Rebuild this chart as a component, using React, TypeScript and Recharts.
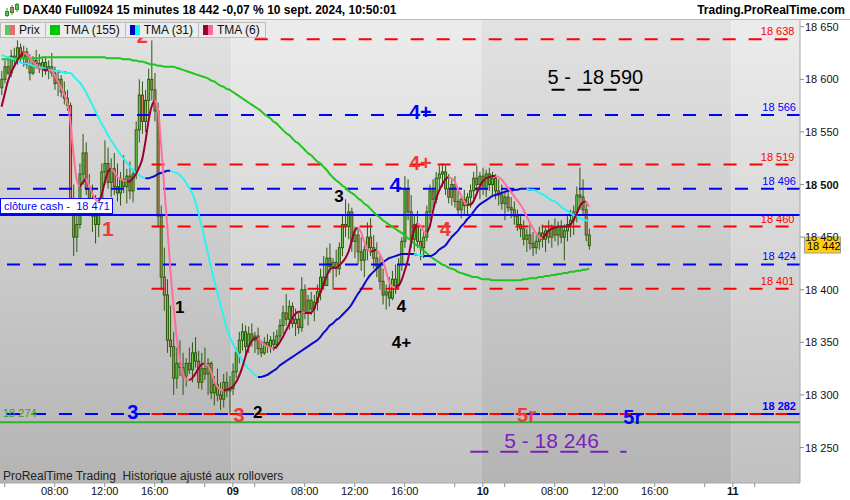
import React from "react";
import {
  ComposedChart,
  Bar,
  Line,
  XAxis,
  YAxis,
  ReferenceLine,
  ReferenceArea,
  ReferenceDot,
} from "recharts";

// DAX40 Full0924, 15 minute bars, 6 sept 03:30 -> 10 sept 10:45 (one slot per bar)
const firstOpen = 18592;

const highs = [
  18608, 18618, 18622, 18628, 18630, 18637, 18634, 18632, 18630, 18624,
  18622, 18628, 18624, 18620, 18622, 18618, 18625, 18612, 18608, 18604,
  18598, 18590, 18578, 18500, 18470, 18520, 18548, 18540, 18510, 18500,
  18490, 18485, 18520, 18542, 18535, 18525, 18530, 18520, 18512, 18528,
  18515, 18522, 18515, 18560, 18600, 18598, 18590, 18610, 18637, 18606,
  18578, 18480, 18440, 18410, 18385, 18360, 18345, 18352, 18340, 18335,
  18345, 18350, 18355, 18342, 18340, 18345, 18335, 18332, 18318, 18325,
  18312, 18320, 18322, 18318, 18330, 18345, 18360, 18368, 18366, 18365,
  18368, 18360, 18364, 18352, 18355, 18358, 18356, 18360, 18362, 18372,
  18385, 18396, 18390, 18388, 18382, 18378, 18412, 18405, 18395, 18398,
  18395, 18405, 18420, 18432, 18440, 18444, 18430, 18438, 18445, 18470,
  18486, 18482, 18478, 18460, 18458, 18450, 18442, 18464, 18468, 18452,
  18445, 18432, 18420, 18405, 18412, 18418, 18424, 18430, 18450, 18508,
  18505, 18490, 18470, 18475, 18458, 18455, 18480, 18500, 18505, 18512,
  18518, 18520, 18518, 18510, 18505, 18508, 18494, 18490, 18495, 18492,
  18500, 18512, 18518, 18512, 18516, 18514, 18516, 18512, 18510, 18505,
  18500, 18492, 18495, 18488, 18484, 18476, 18470, 18466, 18458, 18462,
  18455, 18452, 18460, 18462, 18460, 18466, 18462, 18468, 18465, 18466,
  18462, 18470, 18476, 18480, 18498, 18516, 18505, 18482, 18458,
];

const lows = [
  18585, 18596, 18604, 18602, 18612, 18614, 18616, 18612, 18610, 18599,
  18604, 18610, 18606, 18602, 18604, 18600, 18602, 18590, 18584, 18583,
  18576, 18570, 18470, 18432, 18436, 18458, 18500, 18490, 18470, 18455,
  18444, 18450, 18476, 18500, 18496, 18488, 18490, 18484, 18480, 18492,
  18482, 18486, 18483, 18505, 18540, 18548, 18550, 18566, 18580, 18560,
  18460, 18400, 18380, 18340, 18336, 18300, 18306, 18318, 18300, 18308,
  18320, 18312, 18326, 18306, 18305, 18314, 18300, 18296, 18290, 18294,
  18286, 18288, 18298, 18283, 18300, 18316, 18330, 18342, 18338, 18340,
  18346, 18340, 18338, 18336, 18338, 18340, 18340, 18342, 18344, 18352,
  18358, 18366, 18362, 18364, 18356, 18358, 18360, 18372, 18366, 18376,
  18370, 18380, 18390, 18400, 18404, 18416, 18400, 18412, 18414, 18432,
  18450, 18448, 18436, 18430, 18424, 18418, 18412, 18428, 18432, 18420,
  18412, 18400, 18386, 18381, 18384, 18390, 18396, 18400, 18418, 18440,
  18466, 18440, 18436, 18440, 18428, 18430, 18446, 18466, 18478, 18482,
  18495, 18498, 18490, 18482, 18480, 18478, 18470, 18468, 18472, 18470,
  18478, 18486, 18494, 18486, 18490, 18488, 18494, 18490, 18486, 18480,
  18476, 18466, 18474, 18468, 18462, 18456, 18450, 18442, 18436, 18438,
  18432, 18434, 18438, 18440, 18436, 18444, 18440, 18446, 18442, 18444,
  18428, 18446, 18450, 18452, 18464, 18476, 18470, 18446, 18438,
];

const closes = [
  18600, 18612, 18606, 18622, 18618, 18630, 18620, 18626, 18614, 18606,
  18618, 18615, 18610, 18616, 18608, 18612, 18606, 18596, 18600, 18588,
  18582, 18575, 18480, 18450, 18462, 18510, 18530, 18496, 18480, 18470,
  18462, 18480, 18512, 18520, 18502, 18515, 18498, 18492, 18505, 18498,
  18508, 18494, 18510, 18552, 18585, 18560, 18580, 18600, 18590, 18570,
  18470, 18412, 18395, 18352, 18346, 18316, 18330, 18326, 18318, 18330,
  18324, 18340, 18332, 18312, 18325, 18320, 18330, 18302, 18310, 18300,
  18296, 18312, 18304, 18306, 18322, 18340, 18352, 18360, 18346, 18358,
  18352, 18356, 18344, 18340, 18350, 18346, 18352, 18348, 18356, 18366,
  18378, 18372, 18384, 18368, 18372, 18364, 18400, 18378, 18390, 18382,
  18388, 18398, 18412, 18404, 18430, 18422, 18426, 18420, 18440, 18462,
  18460, 18474, 18446, 18452, 18436, 18428, 18438, 18450, 18440, 18430,
  18422, 18408, 18395, 18398, 18392, 18410, 18404, 18424, 18446, 18496,
  18474, 18448, 18462, 18446, 18440, 18450, 18474, 18494, 18486, 18506,
  18510, 18512, 18496, 18488, 18500, 18484, 18476, 18486, 18480, 18488,
  18494, 18506, 18500, 18508, 18496, 18510, 18500, 18506, 18494, 18490,
  18482, 18488, 18478, 18476, 18470, 18462, 18458, 18448, 18452, 18444,
  18440, 18446, 18454, 18448, 18456, 18450, 18458, 18452, 18460, 18450,
  18456, 18462, 18466, 18474, 18490, 18488, 18476, 18452, 18442,
];

const tma155 = [
  18619, 18619, 18619, 18619, 18620, 18620, 18620, 18620, 18620, 18620,
  18620, 18620, 18620, 18621, 18621, 18621, 18621, 18621, 18621, 18621,
  18621, 18621, 18621, 18621, 18621, 18621, 18621, 18621, 18621, 18621,
  18621, 18621, 18621, 18621, 18620, 18620, 18620, 18620, 18620, 18619,
  18619, 18619, 18618, 18618, 18617, 18617, 18616, 18615, 18614, 18614,
  18613, 18613, 18612, 18612, 18612, 18612, 18611, 18610, 18609, 18608,
  18607, 18606, 18605, 18604, 18603, 18602, 18601, 18599, 18598, 18596,
  18594, 18593, 18591, 18590, 18588, 18586, 18584, 18582, 18580, 18578,
  18576, 18574, 18572, 18570, 18567, 18565, 18563, 18560, 18558, 18555,
  18552, 18549, 18547, 18544, 18541, 18539, 18536, 18533, 18530, 18528,
  18525, 18522, 18520, 18517, 18514, 18510, 18507, 18504, 18502, 18499,
  18497, 18494, 18492, 18490, 18487, 18485, 18482, 18480, 18477, 18474,
  18471, 18469, 18466, 18464, 18462, 18460, 18458, 18456, 18454, 18452,
  18449, 18447, 18444, 18442, 18440, 18437, 18435, 18432, 18430, 18428,
  18426, 18424, 18423, 18421, 18420, 18419, 18417, 18416, 18415, 18414,
  18413, 18412, 18412, 18411, 18410, 18410, 18410, 18409, 18409, 18409,
  18409, 18409, 18409, 18409, 18409, 18409, 18409, 18410, 18410, 18411,
  18411, 18411, 18412, 18412, 18413, 18413, 18414, 18414, 18415, 18415,
  18416, 18416, 18417, 18417, 18418, 18418, 18419, 18419, 18420,
];

const tma31 = [
  18623, 18622, 18621, 18620, 18619, 18618, 18616, 18615, 18615, 18614,
  18613, 18612, 18612, 18611, 18610, 18609, 18609, 18608, 18608, 18607,
  18607, 18606, 18606, 18603, 18600, 18597, 18593, 18588, 18582, 18576,
  18570, 18564, 18558, 18553, 18547, 18542, 18538, 18533, 18529, 18525,
  18521, 18517, 18514, 18511, 18509, 18507, 18506, 18506, 18507, 18508,
  18510, 18511, 18512, 18513, 18513, 18512, 18511, 18509, 18506, 18502,
  18497, 18492, 18484, 18473, 18461, 18448, 18435, 18422, 18409, 18398,
  18387, 18375, 18364, 18356, 18349, 18343, 18338, 18333, 18329, 18325,
  18322, 18319, 18317, 18317, 18318, 18319, 18321, 18323, 18325, 18328,
  18330, 18332, 18334, 18336, 18338, 18340, 18342, 18344, 18346, 18348,
  18350, 18352, 18355, 18359, 18362, 18366, 18368, 18371, 18373, 18376,
  18379, 18382, 18386, 18391, 18396, 18400, 18405, 18410, 18414, 18417,
  18420, 18423, 18426, 18428, 18430, 18431, 18432, 18433, 18434, 18434,
  18434, 18434, 18434, 18433, 18433, 18432, 18432, 18432, 18433, 18435,
  18438, 18440, 18442, 18446, 18450, 18453, 18456, 18460, 18463, 18467,
  18470, 18474, 18478, 18481, 18483, 18485, 18487, 18489, 18490, 18491,
  18492, 18493, 18494, 18494, 18495, 18495, 18496, 18496, 18496, 18495,
  18495, 18494, 18492, 18491, 18489, 18487, 18485, 18484, 18482, 18479,
  18477, 18475, 18473, 18471, 18470, 18468, 18467, 18466, 18465,
];

const tma6 = [
  18574, 18586, 18598, 18606, 18612, 18618, 18622, 18625, 18624, 18621,
  18617, 18614, 18611, 18609, 18609, 18609, 18608, 18604, 18598, 18592,
  18586, 18578, 18560, 18530, 18505, 18498, 18502, 18506, 18500, 18492,
  18486, 18484, 18490, 18502, 18512, 18515, 18512, 18508, 18505, 18504,
  18503, 18503, 18506, 18510, 18516, 18524, 18540, 18560, 18574, 18580,
  18572, 18540, 18500, 18462, 18420, 18386, 18356, 18335, 18321, 18315,
  18314, 18316, 18320, 18325, 18329, 18330, 18328, 18322, 18314, 18308,
  18305, 18304, 18305, 18306, 18308, 18312, 18318, 18326, 18336, 18345,
  18351, 18354, 18354, 18351, 18348, 18346, 18345, 18344, 18346, 18350,
  18355, 18361, 18367, 18373, 18377, 18379, 18379, 18378, 18378, 18378,
  18382, 18390, 18397, 18405, 18413, 18419, 18421, 18421, 18423, 18426,
  18430, 18436, 18446, 18456, 18459, 18455, 18446, 18439, 18436, 18437,
  18438, 18434, 18428, 18418, 18408, 18403, 18402, 18404, 18409, 18418,
  18428, 18444, 18457, 18463, 18461, 18456, 18454, 18460, 18474, 18486,
  18494, 18500, 18505, 18507, 18506, 18503, 18496, 18490, 18484, 18481,
  18481, 18484, 18491, 18498, 18503, 18506, 18507, 18508, 18508, 18507,
  18505, 18501, 18497, 18493, 18489, 18485, 18481, 18476, 18470, 18464,
  18459, 18454, 18450, 18449, 18452, 18456, 18458, 18459, 18460, 18460,
  18460, 18460, 18462, 18466, 18472, 18479, 18483, 18484, 18479,
];

// x slots: 6 sept 03:30 is slot 0, the axis runs to slot 255 (11 sept)
const SLOTS = 256;
const axisTicks = [1, 17, 33, 49, 65, 74, 81, 97, 113, 129, 145, 154, 161, 177, 193, 209, 225, 234, 241];
const tickText: Record<number, string> = {
  17: "08:00", 33: "12:00", 49: "16:00",
  74: "09", 97: "08:00", 113: "12:00", 129: "16:00",
  154: "10", 177: "08:00", 193: "12:00", 209: "16:00",
  234: "11",
};
const dayTicks = [74, 154, 234];
const days: [number, number][] = [[0, 73], [74, 153], [154, 233], [234, 255]];
const priceTicks = [18250, 18300, 18350, 18400, 18450, 18500, 18550, 18600, 18650];

const blueLevels = [18566, 18496, 18424];
const redLevels = [18519, 18460, 18401];
const redFrom = 48;
const topLevel = 18638;
const topFrom = 81;
const cashClose = 18471;
const lowLevel = 18282;
const greenLevel = 18274;
const lastPrice = 18442;
const target590 = 18590;
const target246 = 18246;

const RED = "#ff0000";
const BLUE = "#0000ff";
const NOTE_RED = "#f03a3a";
const PURPLE = "#7d1fb8";

const notes = [
  { t: "2", x: 45, v: 18641, c: NOTE_RED, s: 20, b: 700 },
  { t: "1", x: 34, v: 18458, c: NOTE_RED, s: 21, b: 700 },
  { t: "1", x: 57, v: 18384, c: "#000", s: 17, b: 700 },
  { t: "3", x: 108, v: 18489, c: "#000", s: 17, b: 600 },
  { t: "4", x: 128, v: 18385, c: "#000", s: 17, b: 700 },
  { t: "4+", x: 128, v: 18350, c: "#000", s: 17, b: 700 },
  { t: "4", x: 126, v: 18500, c: BLUE, s: 21, b: 700 },
  { t: "4+", x: 134, v: 18569, c: BLUE, s: 20, b: 700 },
  { t: "4+", x: 134, v: 18521, c: NOTE_RED, s: 20, b: 700 },
  { t: "4", x: 142, v: 18458, c: NOTE_RED, s: 20, b: 700 },
  { t: "3", x: 42, v: 18284, c: BLUE, s: 20, b: 700 },
  { t: "3", x: 76, v: 18281, c: NOTE_RED, s: 20, b: 700 },
  { t: "2", x: 82, v: 18284, c: "#000", s: 17, b: 700 },
  { t: "5r", x: 168, v: 18281, c: NOTE_RED, s: 20, b: 700 },
  { t: "5r", x: 202, v: 18279, c: BLUE, s: 20, b: 700 },
  { t: "5 -  18 590", x: 190, v: 18602, c: "#000", s: 20, b: 400 },
  { t: "5 - 18 246", x: 176, v: 18257, c: PURPLE, s: 21, b: 400 },
];

const fmt = (v: number) => `${Math.floor(v / 1000)} ${String(v % 1000).padStart(3, "0")}`;

function slopeSplit(vals: number[]) {
  const up = vals.map((v, i) =>
    (i > 0 && v >= vals[i - 1]) || (i < vals.length - 1 && vals[i + 1] >= v) ? v : null
  );
  const down = vals.map((v, i) =>
    (i > 0 && v < vals[i - 1]) || (i < vals.length - 1 && vals[i + 1] < v) ? v : null
  );
  return { up, down };
}

const s31 = slopeSplit(tma31);
const s6 = slopeSplit(tma6);

const data = Array.from({ length: SLOTS }, (_, i) => {
  if (i >= closes.length) return { i };
  return {
    i,
    range: [lows[i], highs[i]],
    o: i === 0 ? firstOpen : closes[i - 1],
    h: highs[i],
    l: lows[i],
    c: closes[i],
    t155: tma155[i],
    t31u: s31.up[i],
    t31d: s31.down[i],
    t6u: s6.up[i],
    t6d: s6.down[i],
  };
});

const OUTLINE = "#2c5a0e";

function Candle(props: any) {
  const { x, y, width, height, payload } = props;
  if (!payload || payload.c == null || height == null) return <g />;
  const top = Math.min(y, y + height);
  const hgt = Math.abs(height);
  const cx = x + width / 2;
  const k = hgt / Math.max(payload.h - payload.l, 1);
  const hi = Math.min(Math.max(payload.o, payload.c), payload.h);
  const lo = Math.max(Math.min(payload.o, payload.c), payload.l);
  const yTop = top + (payload.h - hi) * k;
  const yBot = top + (payload.h - lo) * k;
  const up = payload.c >= payload.o;
  return (
    <g>
      <line x1={cx} x2={cx} y1={top} y2={top + hgt} stroke={OUTLINE} strokeWidth={1} />
      <rect
        x={cx - 1}
        y={yTop}
        width={2}
        height={Math.max(yBot - yTop, 1)}
        fill={up ? "#6cdb4c" : "#e8806c"}
        stroke={OUTLINE}
        strokeWidth={1}
      />
    </g>
  );
}

function XTick(props: any) {
  const { x, y, payload } = props;
  const label = tickText[payload.value] ?? "";
  const bold = dayTicks.includes(payload.value);
  return (
    <text x={x} y={y + 7} textAnchor="middle" fontSize={11} fontWeight={bold ? 700 : 400} fill="#111">
      {label}
    </text>
  );
}

function YTick(props: any) {
  const { x, y, payload } = props;
  return (
    <text x={x} y={y + 4} textAnchor="start" fontSize={11} fontWeight={payload.value === 18500 ? 700 : 400} fill="#111">
      {fmt(payload.value)}
    </text>
  );
}

const levelShape =
  (color: string, text?: string, opts: { dash?: string; offset?: number; bold?: boolean; textColor?: string } = {}) =>
  (p: any) =>
    (
      <g>
        <line
          x1={p.x1}
          y1={p.y1}
          x2={p.x2}
          y2={p.y2}
          stroke={color}
          strokeWidth={2}
          strokeDasharray={opts.dash}
          strokeDashoffset={opts.offset}
        />
        {text ? (
          <text
            x={Math.max(p.x1, p.x2) - 4}
            y={p.y1 - 4}
            textAnchor="end"
            fontSize={11}
            fontWeight={opts.bold ? 700 : 400}
            fill={opts.textColor ?? color}
          >
            {text}
          </text>
        ) : null}
      </g>
    );

const cashShape = (p: any) => (
  <g>
    <line x1={p.x1} y1={p.y1} x2={p.x2} y2={p.y2} stroke={BLUE} strokeWidth={2} />
    <rect x={Math.min(p.x1, p.x2) + 0.5} y={p.y1 - 16.5} width={112} height={15} fill="#fff" stroke={BLUE} strokeWidth={1} />
    <text x={Math.min(p.x1, p.x2) + 4} y={p.y1 - 5} fontSize={11} fill={BLUE} style={{ whiteSpace: "pre" }}>
      {`clôture cash -  ${fmt(cashClose)}`}
    </text>
  </g>
);

const greenShape = (p: any) => (
  <g>
    <line x1={p.x1} y1={p.y1} x2={p.x2} y2={p.y2} stroke="#33b033" strokeWidth={2} />
    <text x={Math.min(p.x1, p.x2) + 3} y={p.y1 - 5} fontSize={11} fill="#3a9a3a">
      {fmt(greenLevel)}
    </text>
  </g>
);

const priceTag = (p: any) => (
  <g>
    <rect x={Math.max(p.x1, p.x2) + 4.5} y={p.y1 - 8.5} width={36} height={16} fill="#ffcc10" stroke="#a0a0a0" />
    <text x={Math.max(p.x1, p.x2) + 7} y={p.y1 + 4} fontSize={11} fill="#000">
      {fmt(lastPrice)}
    </text>
  </g>
);

const noteShape = (n: (typeof notes)[number]) => (p: any) =>
  (
    <text
      x={p.cx}
      y={p.cy + n.s * 0.36}
      textAnchor="middle"
      fontSize={n.s}
      fontWeight={n.b}
      fill={n.c}
      style={{ whiteSpace: "pre" }}
    >
      {n.t}
    </text>
  );

const legendItems = [
  { label: "Prix", a: "#55cc55", b: "#e07070" },
  { label: "TMA (155)", a: "#00c800", b: "#00c800" },
  { label: "TMA (31)", a: "#0000c0", b: "#00ffff" },
  { label: "TMA (6)", a: "#990033", b: "#ff6699" },
];

export default function App() {
  return (
    <div
      style={{
        position: "absolute",
        left: 0,
        top: 0,
        width: 850,
        height: 500,
        background: "#fff",
        fontFamily: "'Liberation Sans', Arial, sans-serif",
        overflow: "hidden",
      }}
    >
      <ComposedChart width={850} height={500} data={data} margin={{ top: 20, right: 0, bottom: 0, left: 0 }}>
        <defs>
          <linearGradient id="bgLight" x1="0" y1="0" x2="0" y2="1">
            <stop offset="0%" stopColor="#ececec" />
            <stop offset="100%" stopColor="#c0c0c0" />
          </linearGradient>
          <linearGradient id="bgDark" x1="0" y1="0" x2="0" y2="1">
            <stop offset="0%" stopColor="#e2e2e2" />
            <stop offset="100%" stopColor="#b4b4b4" />
          </linearGradient>
        </defs>
        <XAxis
          dataKey="i"
          type="category"
          ticks={axisTicks}
          interval={0}
          height={17}
          tickSize={4}
          tickMargin={1}
          tick={<XTick />}
          axisLine={{ stroke: "#a8a8a8" }}
          tickLine={{ stroke: "#909090" }}
        />
        <YAxis
          orientation="right"
          type="number"
          domain={[18216.3, 18656.4]}
          allowDataOverflow
          ticks={priceTicks}
          interval={0}
          width={50}
          tickSize={4}
          tickMargin={1}
          tick={<YTick />}
          axisLine={{ stroke: "#a8a8a8" }}
          tickLine={{ stroke: "#909090" }}
        />

        {days.map(([a, b], k) => (
          <ReferenceArea
            key={`day${k}`}
            x1={a}
            x2={b}
            fill={k % 2 === 0 ? "url(#bgDark)" : "url(#bgLight)"}
            fillOpacity={1}
            stroke="none"
          />
        ))}

        <ReferenceLine
          segment={[{ x: redFrom, y: lowLevel }, { x: SLOTS - 1, y: lowLevel }]}
          shape={levelShape(RED, undefined, { dash: "18 8" })}
        />
        <ReferenceLine y={lowLevel} shape={levelShape(BLUE, fmt(lowLevel), { dash: "13 13", bold: true })} />
        <ReferenceLine y={greenLevel} shape={greenShape} />
        {blueLevels.map((v) => (
          <ReferenceLine key={`b${v}`} y={v} shape={levelShape(BLUE, fmt(v), { dash: "13 13" })} />
        ))}
        {redLevels.map((v) => (
          <ReferenceLine
            key={`r${v}`}
            segment={[{ x: redFrom, y: v }, { x: SLOTS - 1, y: v }]}
            shape={levelShape(RED, fmt(v), { dash: "13 13" })}
          />
        ))}
        <ReferenceLine
          segment={[{ x: topFrom, y: topLevel }, { x: SLOTS - 1, y: topLevel }]}
          shape={levelShape(RED, fmt(topLevel), { dash: "13 13" })}
        />
        <ReferenceLine y={cashClose} shape={cashShape} />
        <ReferenceLine
          segment={[{ x: 176, y: target590 }, { x: 204, y: target590 }]}
          shape={levelShape("#000", undefined, { dash: "13 13" })}
        />
        <ReferenceLine
          segment={[{ x: 150, y: target246 }, { x: 200, y: target246 }]}
          shape={levelShape(PURPLE, undefined, { dash: "18 12" })}
        />

        <Bar dataKey="range" shape={<Candle />} isAnimationActive={false} />

        <Line dataKey="t155" type="monotone" stroke="#1fc41f" strokeWidth={2} dot={false} activeDot={false} isAnimationActive={false} />
        <Line dataKey="t31u" type="monotone" stroke="#0a0ac8" strokeWidth={2} dot={false} activeDot={false} isAnimationActive={false} />
        <Line dataKey="t31d" type="monotone" stroke="#30f0f0" strokeWidth={2} dot={false} activeDot={false} isAnimationActive={false} />
        <Line dataKey="t6u" type="monotone" stroke="#990033" strokeWidth={2} dot={false} activeDot={false} isAnimationActive={false} />
        <Line dataKey="t6d" type="monotone" stroke="#ff6f99" strokeWidth={2} dot={false} activeDot={false} isAnimationActive={false} />

        <ReferenceLine y={lastPrice} shape={priceTag} />

        {notes.map((n, k) => (
          <ReferenceDot key={`n${k}`} x={n.x} y={n.v} r={0} shape={noteShape(n)} />
        ))}
      </ComposedChart>

      {/* header */}
      <div
        style={{
          position: "absolute",
          left: 0,
          top: 0,
          width: 850,
          height: 19,
          background: "#fff",
          borderBottom: "1px solid #b8b8b8",
        }}
      >
        <svg width={16} height={16} style={{ position: "absolute", left: 4, top: 2 }}>
          <line x1={3} y1={6} x2={3} y2={15} stroke="#3a8a2a" />
          <rect x={1.5} y={9.5} width={3} height={4} fill="#55cc55" stroke="#3a8a2a" />
          <line x1={8} y1={3} x2={8} y2={13} stroke="#3a8a2a" />
          <rect x={6.5} y={5.5} width={3} height={5} fill="#e07070" stroke="#3a8a2a" />
          <line x1={13} y1={1} x2={13} y2={10} stroke="#3a8a2a" />
          <rect x={11.5} y={2.5} width={3} height={5} fill="#55cc55" stroke="#3a8a2a" />
        </svg>
        <div style={{ position: "absolute", left: 23, top: 3, fontSize: 12, fontWeight: 700, whiteSpace: "pre" }}>
          DAX40 Full0924 15 minutes 18 442 -0,07 % 10 sept. 2024, 10:50:01
        </div>
        <div style={{ position: "absolute", right: 5, top: 3, fontSize: 12, fontWeight: 700 }}>
          Trading.ProRealTime.com
        </div>
      </div>

      {/* legend */}
      <div style={{ position: "absolute", left: 0, top: 22, display: "flex" }}>
        {legendItems.map((it) => (
          <div
            key={it.label}
            style={{
              display: "flex",
              alignItems: "center",
              height: 14,
              padding: "0 5px 0 4px",
              background: "#ececec",
              border: "1px solid #bcbcbc",
              marginRight: -1,
              fontSize: 12,
              color: "#111",
            }}
          >
            <span style={{ display: "inline-block", width: 5, height: 10, background: it.a }} />
            <span style={{ display: "inline-block", width: 5, height: 10, background: it.b, marginRight: 4 }} />
            {it.label}
          </div>
        ))}
      </div>

      <div style={{ position: "absolute", left: 3, top: 469, fontSize: 12, color: "#222", whiteSpace: "pre" }}>
        ProRealTime Trading  Historique ajusté aux rollovers
      </div>
    </div>
  );
}
